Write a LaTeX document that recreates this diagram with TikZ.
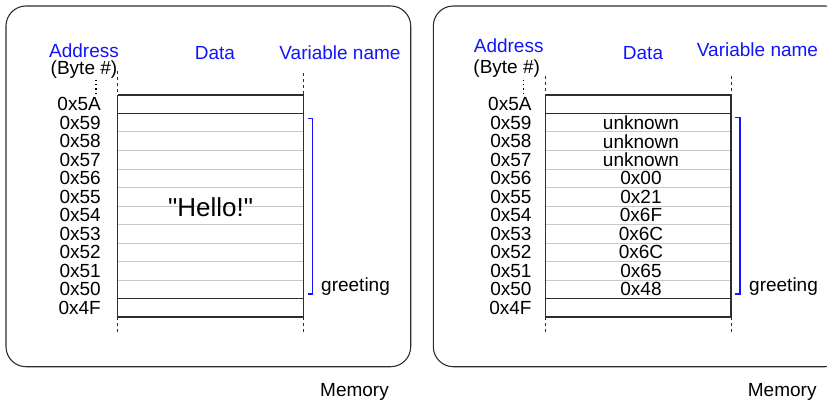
\documentclass[tikz,border=0pt]{standalone}
\usepackage{fontspec}
\setmainfont{Liberation Sans}
\newfontfamily\rawfont{Liberation Sans}
\definecolor{hdrblue}{RGB}{20,20,250}
\definecolor{framegray}{RGB}{45,45,45}
\definecolor{cellgray}{RGB}{200,200,200}
\begin{document}
\begin{tikzpicture}[x=1pt,y=-1pt,
  every node/.style={inner sep=0pt, font=\fontsize{19}{21}\selectfont},
  frame/.style={draw=framegray, line width=1.1pt, rounded corners=20pt},
  darkline/.style={draw=framegray, line width=1.1pt},
  lightline/.style={draw=cellgray, line width=1pt},
  dashline/.style={draw=framegray, line width=0.9pt, dash pattern=on 3pt off 3pt},
  dotline/.style={draw=black, line width=1.4pt, dash pattern=on 1.2pt off 3pt},
  header/.style={text=hdrblue},
  bracket/.style={draw=hdrblue, line width=1.3pt},
  addr/.style={anchor=east}]
\useasboundingbox (0,0) rectangle (827,401);

% ---------- panel frames ----------
\draw[frame] (6,6) rectangle (410.7,366.7);
\draw[frame] (433.3,6) rectangle (845,366.7);

% ---------- left panel ----------
\node[header] (LA) at (84,50.7) {Address};
\node (LB) at (84,70) {(Byte \#)};
\node[header] (LD) at (215,52.7) {Data};
\node[header] (LV) at (340,52.7) {Variable name};
\draw[dotline] (96,80) -- (96,95);

\foreach \k in {2,...,10}
  \draw[lightline] (117.7,{95+18.5*\k}) -- (303.7,{95+18.5*\k});
\foreach \k in {0,1,11,12}
  \draw[darkline] (117.7,{95+18.5*\k}) -- (303.7,{95+18.5*\k});
\draw[darkline] (117.7,95) -- (117.7,317);
\draw[darkline] (303.7,95) -- (303.7,317);
\draw[dashline] (117.7,71.5) -- (117.7,95);
\draw[dashline] (303.7,73) -- (303.7,95);
\draw[dashline] (117.7,317) -- (117.7,332);
\draw[dashline] (303.7,317) -- (303.7,332);

\foreach \lab [count=\i from 0] in {0x5A,0x59,0x58,0x57,0x56,0x55,0x54,0x53,0x52,0x51,0x50,0x4F}
  \node[addr] (LAd\i) at (101,{95+18.5*\i+9.25}) {\lab};

\node[font=\rawfont\fontsize{26}{28}\selectfont] (hello) at (210.7,207) {"Hello!"};

\coordinate (LBt) at (307.5,118.3);
\coordinate (LBb) at (307.5,294);
\draw[bracket] (LBt) -- ++(5.2,0) |- (LBb);
\node[anchor=base west] (LG) at (321,291.5) {greeting};
\node[anchor=base west] (LM) at (320,396.5) {Memory};

% ---------- right panel ----------
\node[header] (RA) at (508.7,45.7) {Address};
\node (RB) at (506.7,68.3) {(Byte \#)};
\node[header] (RD) at (643,52.7) {Data};
\node[header] (RV) at (757.5,50) {Variable name};
\draw[dotline] (523.3,80) -- (523.3,95);

\foreach \k in {2,...,10}
  \draw[lightline] (545.3,{95+18.5*\k}) -- (731,{95+18.5*\k});
\foreach \k in {0,1,11,12}
  \draw[darkline] (545.3,{95+18.5*\k}) -- (731,{95+18.5*\k});
\draw[darkline] (545.3,95) -- (545.3,317);
\draw[darkline] (731,95) -- (731,317);
\draw[dashline] (545.3,76.5) -- (545.3,95);
\draw[dashline] (731,76.5) -- (731,95);
\draw[dashline] (545.3,317) -- (545.3,332);
\draw[dashline] (731,317) -- (731,332);

\foreach \lab [count=\i from 0] in {0x5A,0x59,0x58,0x57,0x56,0x55,0x54,0x53,0x52,0x51,0x50,0x4F}
  \node[addr] (RAd\i) at (531.7,{95+18.5*\i+9.25}) {\lab};

\foreach \val [count=\i from 1] in {unknown,unknown,unknown,0x00,0x21,0x6F,0x6C,0x6C,0x65,0x48}
  \node (RDv\i) at (641,{95+18.5*\i+9.25}) {\val};

\coordinate (RBt) at (735,117.7);
\coordinate (RBb) at (735,294);
\draw[bracket] (RBt) -- ++(5,0) |- (RBb);
\node[anchor=base west] (RG) at (749,291.5) {greeting};
\node[anchor=base west] (RM) at (747.7,396.5) {Memory};
\end{tikzpicture}
\end{document}
